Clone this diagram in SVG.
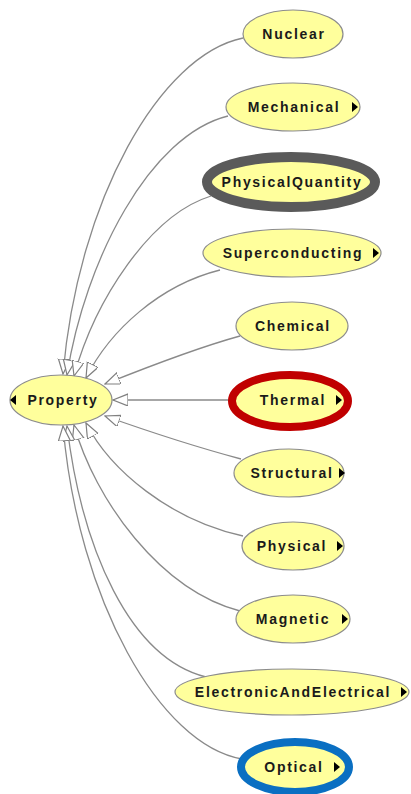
<svg xmlns="http://www.w3.org/2000/svg" width="411" height="794" viewBox="0 0 411 794">
  <defs>
    <marker id="hollow" markerUnits="userSpaceOnUse" markerWidth="16" markerHeight="13" refX="15" refY="6" orient="auto">
      <path d="M0,0 L15,6 L0,12 z" fill="#ffffff" stroke="#808080" stroke-width="1.2"/>
    </marker>
    <style>
      .edge { fill: none; stroke: #8a8a8a; stroke-width: 1.3; marker-end: url(#hollow); }
      .node { fill: #ffff9c; stroke: #8c8c8c; stroke-width: 1.2; }
      .label { font-family: "Liberation Sans", Arial, sans-serif; font-size: 14px; font-weight: bold; letter-spacing: 1.7px; fill: #1a1a1a; text-anchor: middle; }
      .tri { fill: #000000; }
      .ring-grey { fill: #ffff9c; stroke: #5a5a5a; stroke-width: 10; }
      .ring-red { fill: #ffff9c; stroke: #c00000; stroke-width: 8; }
      .ring-blue { fill: #ffff9c; stroke: #0a6fc2; stroke-width: 8; }
    </style>
  </defs>

  <g id="connectors">
    <path class="edge" d="M243,38 C160,55 78,200 63,374"/>
    <path class="edge" d="M228,116 C150,135 85,260 67,375"/>
    <path class="edge" d="M211,196 C150,215 95,300 74,376"/>
    <path class="edge" d="M220,270 C160,285 110,330 86,378"/>
    <path class="edge" d="M240,336 C200,347 150,366 105,384"/>
    <path class="edge" d="M232,400 L113,400"/>
    <path class="edge" d="M241,459 C200,448 150,432 105,416"/>
    <path class="edge" d="M243,536 C170,520 110,470 86,423"/>
    <path class="edge" d="M240,611 C160,590 95,500 74,425"/>
    <path class="edge" d="M206,677 C130,658 82,550 67,426"/>
    <path class="edge" d="M242,759 C160,745 78,600 63,426"/>
  </g>

  <g id="Property">
    <ellipse class="node" cx="61" cy="400" rx="51" ry="25"/>
    <path class="tri" d="M16,395 L10,400 L16,405 z"/>
    <text class="label" x="63" y="405">Property</text>
  </g>

  <g id="Nuclear">
    <ellipse class="node" cx="293" cy="34" rx="50" ry="24"/>
    <text class="label" x="294" y="39">Nuclear</text>
  </g>

  <g id="Mechanical">
    <ellipse class="node" cx="293" cy="107" rx="67" ry="24"/>
    <text class="label" x="294" y="112">Mechanical</text>
    <path class="tri" d="M352,102 L358,107 L352,112 z"/>
  </g>

  <g id="PhysicalQuantity">
    <ellipse class="ring-grey" cx="291" cy="182" rx="84" ry="25"/>
    <text class="label" x="292" y="187">PhysicalQuantity</text>
  </g>

  <g id="Superconducting">
    <ellipse class="node" cx="292" cy="253" rx="89" ry="24"/>
    <text class="label" x="293" y="258">Superconducting</text>
    <path class="tri" d="M373,248 L379,253 L373,258 z"/>
  </g>

  <g id="Chemical">
    <ellipse class="node" cx="292" cy="326" rx="56" ry="24"/>
    <text class="label" x="293" y="331">Chemical</text>
  </g>

  <g id="Thermal">
    <ellipse class="ring-red" cx="290" cy="401" rx="58" ry="26"/>
    <text class="label" x="293" y="405">Thermal</text>
    <path class="tri" d="M336,395 L342,400 L336,405 z"/>
  </g>

  <g id="Structural">
    <ellipse class="node" cx="289" cy="473" rx="55" ry="24"/>
    <text class="label" x="292" y="478">Structural</text>
    <path class="tri" d="M339,468 L345,473 L339,478 z"/>
  </g>

  <g id="Physical">
    <ellipse class="node" cx="293" cy="546" rx="51" ry="24"/>
    <text class="label" x="292" y="551">Physical</text>
    <path class="tri" d="M337,541 L343,546 L337,551 z"/>
  </g>

  <g id="Magnetic">
    <ellipse class="node" cx="293" cy="619" rx="57" ry="24"/>
    <text class="label" x="293" y="624">Magnetic</text>
    <path class="tri" d="M342,614 L348,619 L342,624 z"/>
  </g>

  <g id="ElectronicAndElectrical">
    <ellipse class="node" cx="292" cy="692" rx="117" ry="23"/>
    <text class="label" x="293" y="697">ElectronicAndElectrical</text>
    <path class="tri" d="M401,687 L407,692 L401,697 z"/>
  </g>

  <g id="Optical">
    <ellipse class="ring-blue" cx="295" cy="767" rx="54" ry="25"/>
    <text class="label" x="294" y="772">Optical</text>
    <path class="tri" d="M334,762 L340,767 L334,772 z"/>
  </g>
</svg>
